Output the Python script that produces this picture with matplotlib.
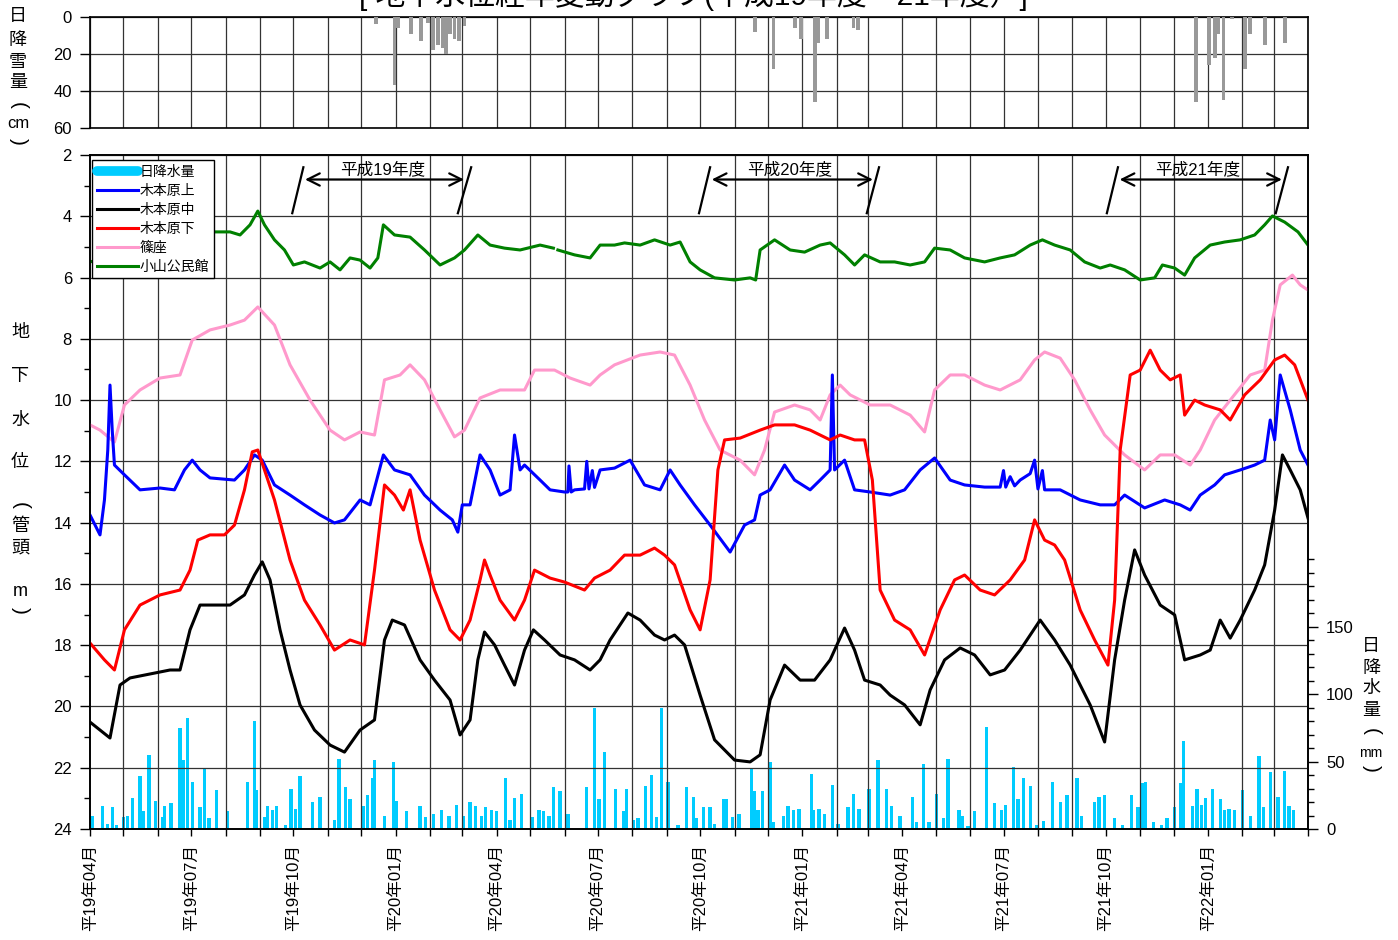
import numpy as np
import matplotlib
matplotlib.use("Agg")
import matplotlib.pyplot as plt
from matplotlib.lines import Line2D
from matplotlib.ticker import MultipleLocator, FixedLocator

plt.rcParams['font.family'] = ['Liberation Sans', 'Noto Sans CJK JP']

# x = days since 2007-04-01 (平成19年4月1日)
n_days = 1096
tick_labels = ["平19年04月", "平19年07月", "平19年10月", "平20年01月",
               "平20年04月", "平20年07月", "平20年10月", "平21年01月",
               "平21年04月", "平21年07月", "平21年10月", "平22年01月"]

# 地下水位 (管頭 m)
koyama_days = [0, 112, 126, 135, 144, 151, 157, 166, 175, 183, 193, 207, 216, 225, 234, 243, 252,
               259, 264, 274, 288, 301, 315, 328, 337, 349, 360, 373, 387, 405, 417, 419, 421, 436,
               450, 459, 472, 481, 495, 508, 522, 531, 540, 549, 562, 580, 594, 599, 603, 616, 630,
               643, 657, 666, 679, 688, 697, 711, 724, 738, 751, 760, 774, 787, 805, 819, 832, 846,
               857, 868, 882, 895, 909, 918, 931, 945, 958, 965, 976, 985, 994, 1008, 1021, 1035,
               1048, 1057, 1064, 1075, 1087, 1096]
koyama_vals = [5.49, 4.51, 4.51, 4.61, 4.28, 3.83, 4.28, 4.77, 5.10, 5.59, 5.49, 5.69, 5.49, 5.75,
               5.36, 5.43, 5.69, 5.36, 4.28, 4.61, 4.68, 5.10, 5.59, 5.36, 5.10, 4.61, 4.94, 5.04,
               5.10, 4.94, 5.04, np.nan, 5.10, 5.26, 5.36, 4.94, 4.94, 4.87, 4.94, 4.77, 4.94, 4.84,
               5.49, 5.75, 6.01, 6.08, 6.01, 6.08, 5.10, 4.77, 5.10, 5.17, 4.94, 4.87, 5.26, 5.59,
               5.26, 5.49, 5.49, 5.59, 5.49, 5.04, 5.10, 5.36, 5.49, 5.36, 5.26, 4.94, 4.77, 4.94,
               5.10, 5.49, 5.69, 5.59, 5.75, 6.08, 6.01, 5.59, 5.69, 5.92, 5.36, 4.94, 4.84, 4.77,
               4.61, 4.28, 3.99, 4.19, 4.51, 4.94]

shinoza_days = [0, 9, 22, 31, 45, 63, 81, 92, 108, 126, 139, 151, 166, 180, 198, 216, 229, 243,
                256, 265, 279, 288, 301, 315, 328, 337, 351, 369, 391, 400, 418, 432, 450, 459, 472,
                495, 513, 526, 540, 553, 567, 585, 598, 607, 616, 634, 648, 657, 666, 675, 684, 702,
                720, 738, 751, 760, 774, 787, 805, 819, 837, 850, 859, 873, 886, 900, 913, 931, 949,
                963, 976, 990, 999, 1012, 1026, 1044, 1057, 1064, 1071, 1082, 1089, 1096]
shinoza_vals = [10.81, 10.98, 11.37, 10.16, 9.67, 9.28, 9.18, 8.04, 7.71, 7.55, 7.39, 6.96, 7.55,
                8.85, 10.0, 10.98, 11.30, 11.04, 11.14, 9.34, 9.18, 8.85, 9.34, 10.32, 11.20, 10.98,
                9.93, 9.67, 9.67, 9.02, 9.02, 9.28, 9.51, 9.18, 8.85, 8.53, 8.43, 8.53, 9.51, 10.65,
                11.63, 11.96, 12.44, 11.63, 10.39, 10.16, 10.32, 10.65, 9.83, 9.51, 9.83, 10.16,
                10.16, 10.49, 11.04, 9.67, 9.18, 9.18, 9.51, 9.67, 9.34, 8.69, 8.43, 8.63, 9.34,
                10.32, 11.14, 11.79, 12.28, 11.79, 11.79, 12.12, 11.63, 10.65, 10.0, 9.18, 9.02,
                7.39, 6.24, 5.92, 6.24, 6.41]

kamo_days = [0, 9, 13, 16, 18, 20, 22, 31, 45, 63, 76, 85, 92, 99, 108, 130, 139, 148, 155, 166,
             180, 193, 207, 220, 229, 243, 252, 264, 274, 288, 301, 315, 326, 331, 335, 342, 351,
             360, 369, 378, 382, 387, 391, 405, 414, 427, 430, 431, 433, 436, 445, 447, 449, 452,
             454, 459, 472, 486, 499, 513, 522, 531, 544, 558, 576, 589, 598, 603, 612, 625, 634,
             648, 657, 666, 668, 670, 679, 688, 702, 720, 733, 747, 760, 774, 787, 805, 819, 822,
             824, 828, 832, 837, 846, 850, 853, 857, 859, 873, 891, 909, 922, 931, 949, 967, 981,
             990, 999, 1012, 1021, 1035, 1048, 1057, 1062, 1066, 1071, 1080, 1089, 1096]
kamo_vals = [13.75, 14.40, 13.26, 11.63, 9.51, 10.98, 12.12, 12.44, 12.93, 12.87, 12.93, 12.28,
             11.96, 12.28, 12.54, 12.61, 12.28, 11.79, 11.96, 12.77, 13.10, 13.42, 13.75, 14.01,
             13.91, 13.26, 13.42, 11.79, 12.28, 12.44, 13.10, 13.59, 13.91, 14.31, 13.42, 13.42,
             11.79, 12.28, 13.10, 12.93, 11.14, 12.28, 12.12, 12.61, 12.93, 13.0, 13.0, 12.15,
             13.0, 12.93, 12.9, 12.0, 12.9, 12.3, 12.85, 12.28, 12.22, 11.96, 12.77, 12.93, 12.28,
             12.77, 13.42, 14.08, 14.96, 14.08, 13.91, 13.10, 12.93, 12.12, 12.61, 12.93, 12.61,
             12.28, 9.18, 12.28, 11.96, 12.93, 13.0, 13.10, 12.93, 12.28, 11.89, 12.61, 12.77,
             12.84, 12.84, 12.3, 12.84, 12.5, 12.8, 12.61, 12.4, 11.96, 12.9, 12.3, 12.93, 12.93,
             13.26, 13.42, 13.42, 13.10, 13.52, 13.26, 13.42, 13.59, 13.10, 12.77, 12.44, 12.28,
             12.12, 11.96, 10.65, 11.30, 9.18, 10.32, 11.63, 12.12]

naka_days = [0, 9, 18, 27, 36, 54, 72, 81, 90, 99, 112, 126, 139, 148, 155, 162, 171, 180, 189,
             202, 216, 229, 243, 256, 265, 272, 283, 297, 310, 324, 333, 342, 349, 355, 364, 373,
             382, 391, 399, 409, 423, 436, 450, 459, 468, 484, 495, 508, 517, 526, 535, 549, 562,
             580, 594, 603, 612, 625, 639, 652, 666, 679, 688, 697, 711, 720, 733, 747, 756, 769,
             783, 796, 810, 823, 837, 855, 868, 882, 900, 913, 922, 931, 940, 949, 963, 976, 985,
             999, 1008, 1017, 1026, 1035, 1048, 1057, 1066, 1073, 1080, 1089, 1096]
naka_vals = [20.51, 20.77, 21.03, 19.30, 19.07, 18.94, 18.81, 18.81, 17.50, 16.69, 16.69, 16.69,
             16.36, 15.71, 15.28, 15.87, 17.50, 18.81, 19.95, 20.77, 21.26, 21.49, 20.77, 20.44,
             17.83, 17.18, 17.34, 18.48, 19.14, 19.79, 20.93, 20.44, 18.48, 17.57, 17.99, 18.65,
             19.30, 18.16, 17.50, 17.83, 18.32, 18.48, 18.81, 18.48, 17.83, 16.95, 17.18, 17.67,
             17.83, 17.67, 17.99, 19.63, 21.09, 21.75, 21.81, 21.58, 19.79, 18.65, 19.14, 19.14,
             18.48, 17.44, 18.16, 19.14, 19.30, 19.63, 19.95, 20.60, 19.46, 18.48, 18.09, 18.32,
             18.97, 18.81, 18.16, 17.18, 17.83, 18.65, 19.95, 21.16, 18.48, 16.53, 14.89, 15.71,
             16.69, 17.01, 18.48, 18.32, 18.16, 17.18, 17.77, 17.18, 16.20, 15.38, 13.59, 11.79,
             12.28, 12.93, 13.85]

shimo_days = [0, 13, 22, 31, 45, 63, 81, 90, 97, 108, 121, 130, 139, 146, 151, 157, 166, 180,
              193, 207, 220, 234, 247, 256, 265, 274, 282, 288, 297, 310, 324, 333, 342, 351, 355,
              360, 369, 382, 391, 400, 414, 427, 445, 454, 468, 481, 495, 508, 517, 526, 540, 549,
              558, 565, 571, 585, 603, 616, 634, 648, 666, 675, 688, 697, 704, 711, 724, 738, 751,
              765, 778, 787, 801, 814, 828, 841, 850, 859, 868, 877, 891, 904, 916, 922, 927, 936,
              945, 954, 963, 972, 981, 985, 994, 1003, 1017, 1026, 1039, 1053, 1066, 1075, 1084,
              1096]
shimo_vals = [17.93, 18.48, 18.81, 17.50, 16.69, 16.36, 16.20, 15.55, 14.57, 14.40, 14.40, 14.08,
              12.93, 11.69, 11.63, 12.28, 13.26, 15.22, 16.53, 17.34, 18.16, 17.83, 17.99, 15.55,
              12.77, 13.10, 13.59, 12.93, 14.57, 16.20, 17.50, 17.83, 17.18, 15.87, 15.22, 15.71,
              16.53, 17.18, 16.53, 15.55, 15.81, 15.94, 16.20, 15.81, 15.55, 15.06, 15.06, 14.83,
              15.06, 15.38, 16.85, 17.50, 15.87, 12.28, 11.30, 11.24, 10.98, 10.81, 10.81, 10.98,
              11.30, 11.14, 11.30, 11.30, 12.61, 16.20, 17.18, 17.50, 18.32, 16.85, 15.87, 15.71,
              16.20, 16.36, 15.87, 15.22, 13.91, 14.57, 14.73, 15.22, 16.85, 17.83, 18.65, 16.53,
              11.63, 9.18, 9.02, 8.37, 9.02, 9.34, 9.18, 10.49, 10.0, 10.16, 10.32, 10.65, 9.83,
              9.34, 8.69, 8.53, 8.85, 10.0]

# 日降水量 (mm)
rain_days = [2, 11, 16, 20, 24, 30, 34, 38, 45, 48, 53, 59, 65, 67, 73, 81, 84, 88, 92, 99, 103,
             107, 114, 124, 142, 148, 150, 157, 160, 164, 168, 176, 181, 185, 189, 200, 207, 220,
             224, 230, 234, 246, 250, 254, 256, 265, 273, 276, 285, 297, 302, 309, 316, 323, 330,
             336, 342, 347, 352, 356, 361, 366, 374, 378, 382, 388, 398, 404, 408, 413, 417, 423,
             430, 447, 454, 458, 463, 473, 480, 483, 489, 493, 500, 505, 510, 514, 520, 529, 537,
             543, 546, 552, 558, 562, 570, 573, 578, 584, 595, 598, 601, 605, 612, 615, 624, 628,
             633, 638, 649, 651, 656, 661, 668, 673, 682, 687, 692, 701, 709, 717, 721, 729, 740,
             744, 750, 755, 762, 768, 772, 782, 785, 790, 796, 802, 807, 814, 820, 824, 831, 835,
             840, 846, 852, 858, 866, 873, 879, 888, 892, 899, 904, 908, 913, 922, 929, 937, 943,
             947, 950, 957, 964, 969, 976, 981, 984, 992, 996, 1000, 1004, 1010, 1017, 1021, 1025,
             1030, 1037, 1044, 1052, 1056, 1062, 1069, 1075, 1079, 1083]
rain_vals = [10, 17, 4, 16, 3, 9, 10, 23, 39, 13, 55, 21, 9, 17, 19, 75, 51, 82, 35, 16, 45, 8,
             29, 13, 35, 80, 29, 9, 17, 14, 17, 3, 30, 15, 39, 20, 24, 7, 52, 31, 22, 17, 25, 38,
             51, 10, 50, 21, 13, 17, 9, 11, 14, 10, 18, 10, 20, 17, 10, 16, 14, 13, 38, 7, 23, 26,
             9, 14, 13, 10, 31, 28, 11, 31, 90, 22, 57, 30, 13, 30, 7, 8, 32, 40, 9, 90, 35, 3,
             31, 24, 8, 16, 16, 4, 22, 22, 9, 11, 45, 28, 14, 28, 50, 5, 10, 17, 14, 15, 41, 14,
             15, 11, 33, 4, 16, 26, 15, 30, 51, 30, 17, 10, 24, 5, 48, 5, 26, 8, 52, 14, 10, 2,
             13, 1, 76, 19, 14, 18, 46, 22, 38, 32, 3, 6, 35, 20, 25, 38, 10, 1, 20, 24, 25, 8, 3,
             25, 16, 34, 35, 5, 3, 8, 16, 34, 65, 17, 30, 18, 23, 30, 22, 14, 15, 14, 29, 10, 54,
             16, 42, 24, 43, 17, 14]

# 日降雪量 (cm)
snow_days = [257, 274, 277, 289, 298, 304, 309, 313, 318, 320, 324, 328, 332, 337,
             598, 615, 634, 640, 652, 655, 663, 687, 691,
             995, 1007, 1012, 1015, 1020, 1028, 1039, 1044, 1057, 1075]
snow_vals = [4, 37, 6, 9, 13, 3, 18, 15, 17, 20, 9, 12, 13, 5,
             8, 28, 6, 12, 46, 14, 12, 6, 7,
             46, 26, 22, 9, 45, 1, 28, 9, 15, 14]

month_starts = (np.arange('2007-04', '2010-05', dtype='datetime64[M]').astype('datetime64[D]')
                - np.datetime64('2007-04-01')).astype(int)

W, H = 1398, 940
fig = plt.figure(figsize=(W / 100, H / 100), dpi=100)

def px_axes(x0, y0, x1, y1):
    return fig.add_axes([x0 / W, 1 - y1 / H, (x1 - x0) / W, (y1 - y0) / H])

def ftext(x, y, s, **kw):
    fig.text(x / W, 1 - y / H, s, ha='center', va='center', **kw)

grid_kw = dict(color='#333333', lw=0.9)

# ---- snowfall panel
axs = px_axes(90, 17, 1308, 128)
axs.bar(snow_days, snow_vals, width=3.5, color='#999999', zorder=3)
axs.set_xlim(0, n_days)
axs.set_ylim(60, 0)
axs.set_yticks([0, 20, 40, 60])
axs.xaxis.set_major_locator(FixedLocator(month_starts))
axs.tick_params(axis='x', length=0, labelbottom=False)
axs.tick_params(axis='y', direction='out', length=7, width=1, labelsize=12, pad=6)
axs.grid(True, **grid_kw)
for sp in axs.spines.values():
    sp.set_linewidth(1.2)

# ---- groundwater panel
ax = px_axes(90, 155, 1308, 829)
ax2 = ax.twinx()
ax2.bar(rain_days, rain_vals, width=3.0, color='#00ccff', zorder=2)
ax2.set_ylim(0, 500)
ax2.set_yticks([0, 50, 100, 150])
ax2.yaxis.set_minor_locator(FixedLocator(np.arange(0, 201, 10)))
ax2.tick_params(axis='y', which='major', direction='out', length=7, width=1, labelsize=12, pad=6)
ax2.tick_params(axis='y', which='minor', direction='out', length=4, width=1)

ax.set_zorder(ax2.get_zorder() + 1)
ax.patch.set_visible(False)

ax.plot(koyama_days, koyama_vals, color='#008000', lw=2.2)
ax.plot(shinoza_days, shinoza_vals, color='#ff99cc', lw=2.2)
ax.plot(kamo_days, kamo_vals, color='#0000ff', lw=2.2)
ax.plot(shimo_days, shimo_vals, color='#ff0000', lw=2.2)
ax.plot(naka_days, naka_vals, color='black', lw=2.2)

ax.set_xlim(0, n_days)
ax.set_ylim(24, 2)
ax.yaxis.set_major_locator(MultipleLocator(2))
ax.yaxis.set_minor_locator(MultipleLocator(1))
ax.xaxis.set_major_locator(FixedLocator(month_starts[0:36:3]))
ax.xaxis.set_minor_locator(FixedLocator(month_starts))
ax.set_xticklabels(tick_labels, rotation=90, fontsize=12)
ax.tick_params(axis='x', which='both', direction='out', length=5, width=1, pad=6)
ax.tick_params(axis='y', which='major', direction='out', length=7, width=1, labelsize=12, pad=6)
ax.tick_params(axis='y', which='minor', direction='out', length=4, width=1)
ax.grid(True, which='major', axis='y', **grid_kw)
ax.grid(True, which='minor', axis='x', **grid_kw)
for a in (ax, ax2):
    for sp in a.spines.values():
        sp.set_linewidth(1.2)

# 年度 brackets
periods = [("平成19年度", 182, 192, 331, 343, 339, 263),
           ("平成20年度", 548, 558, 699, 710, 707, 630),
           ("平成21年度", 915, 925, 1067, 1078, 1075, 997)]
for label, l0, l1, r0, r1, aend, tx in periods:
    ax.plot([l0, l1], [3.9, 2.4], color='black', lw=1.6)
    ax.plot([r0, r1], [3.9, 2.4], color='black', lw=1.6)
    ax.annotate('', xy=(aend, 2.8), xytext=(l1 - 1, 2.8),
                arrowprops=dict(arrowstyle='<->', lw=1.6, color='black', mutation_scale=22))
    ax.text(tx, 2.45, label, ha='center', va='center', fontsize=12)

handles = [Line2D([0], [0], color='#00ccff', lw=7, solid_capstyle='round'),
           Line2D([0], [0], color='#0000ff', lw=2.2),
           Line2D([0], [0], color='black', lw=2.2),
           Line2D([0], [0], color='#ff0000', lw=2.2),
           Line2D([0], [0], color='#ff99cc', lw=2.2),
           Line2D([0], [0], color='#008000', lw=2.2)]
labels = ["日降水量", "木本原上", "木本原中", "木本原下", "篠座", "小山公民館"]
leg = ax.legend(handles, labels, loc='upper left', bbox_to_anchor=(0.002, 0.993),
                borderaxespad=0, fontsize=10, frameon=True, fancybox=False,
                edgecolor='black', framealpha=1, handlelength=2.9, handletextpad=0.15,
                labelspacing=0.36, borderpad=0.35)
leg.get_frame().set_linewidth(1.0)

# title (partly off the top edge, as in the original)
fig.text(0.496, 1 - 5 / H, "[ 地下水位経年変動グラフ(平成19年度～21年度）]", ha='center',
         va='baseline', fontsize=21.5)

# vertical axis labels; "(" / ")" turned a quarter clockwise for vertical writing
def vlabel(x, items):
    for ch, y, fs in items:
        if ch in "()":
            ftext(x, y, ch, fontsize=fs, rotation=-90, family='Liberation Sans')
        else:
            ftext(x, y, ch, fontsize=fs)

vlabel(18, [("日", 17, 13), ("降", 40, 13), ("雪", 62, 13), ("量", 83, 13),
            ("(", 105, 15), ("cm", 124, 12), (")", 141, 15)])
vlabel(20, [("地", 333, 13), ("下", 377, 13), ("水", 420, 13), ("位", 463, 13),
            ("(", 505, 15), ("管", 527, 13), ("頭", 548, 13), ("m", 591, 13), (")", 610, 15)])
vlabel(1371, [("日", 647, 13), ("降", 668, 13), ("水", 688, 13), ("量", 710, 13),
              ("(", 732, 15), ("mm", 753, 10), (")", 768, 15)])

fig.savefig("out.png", dpi=100)
